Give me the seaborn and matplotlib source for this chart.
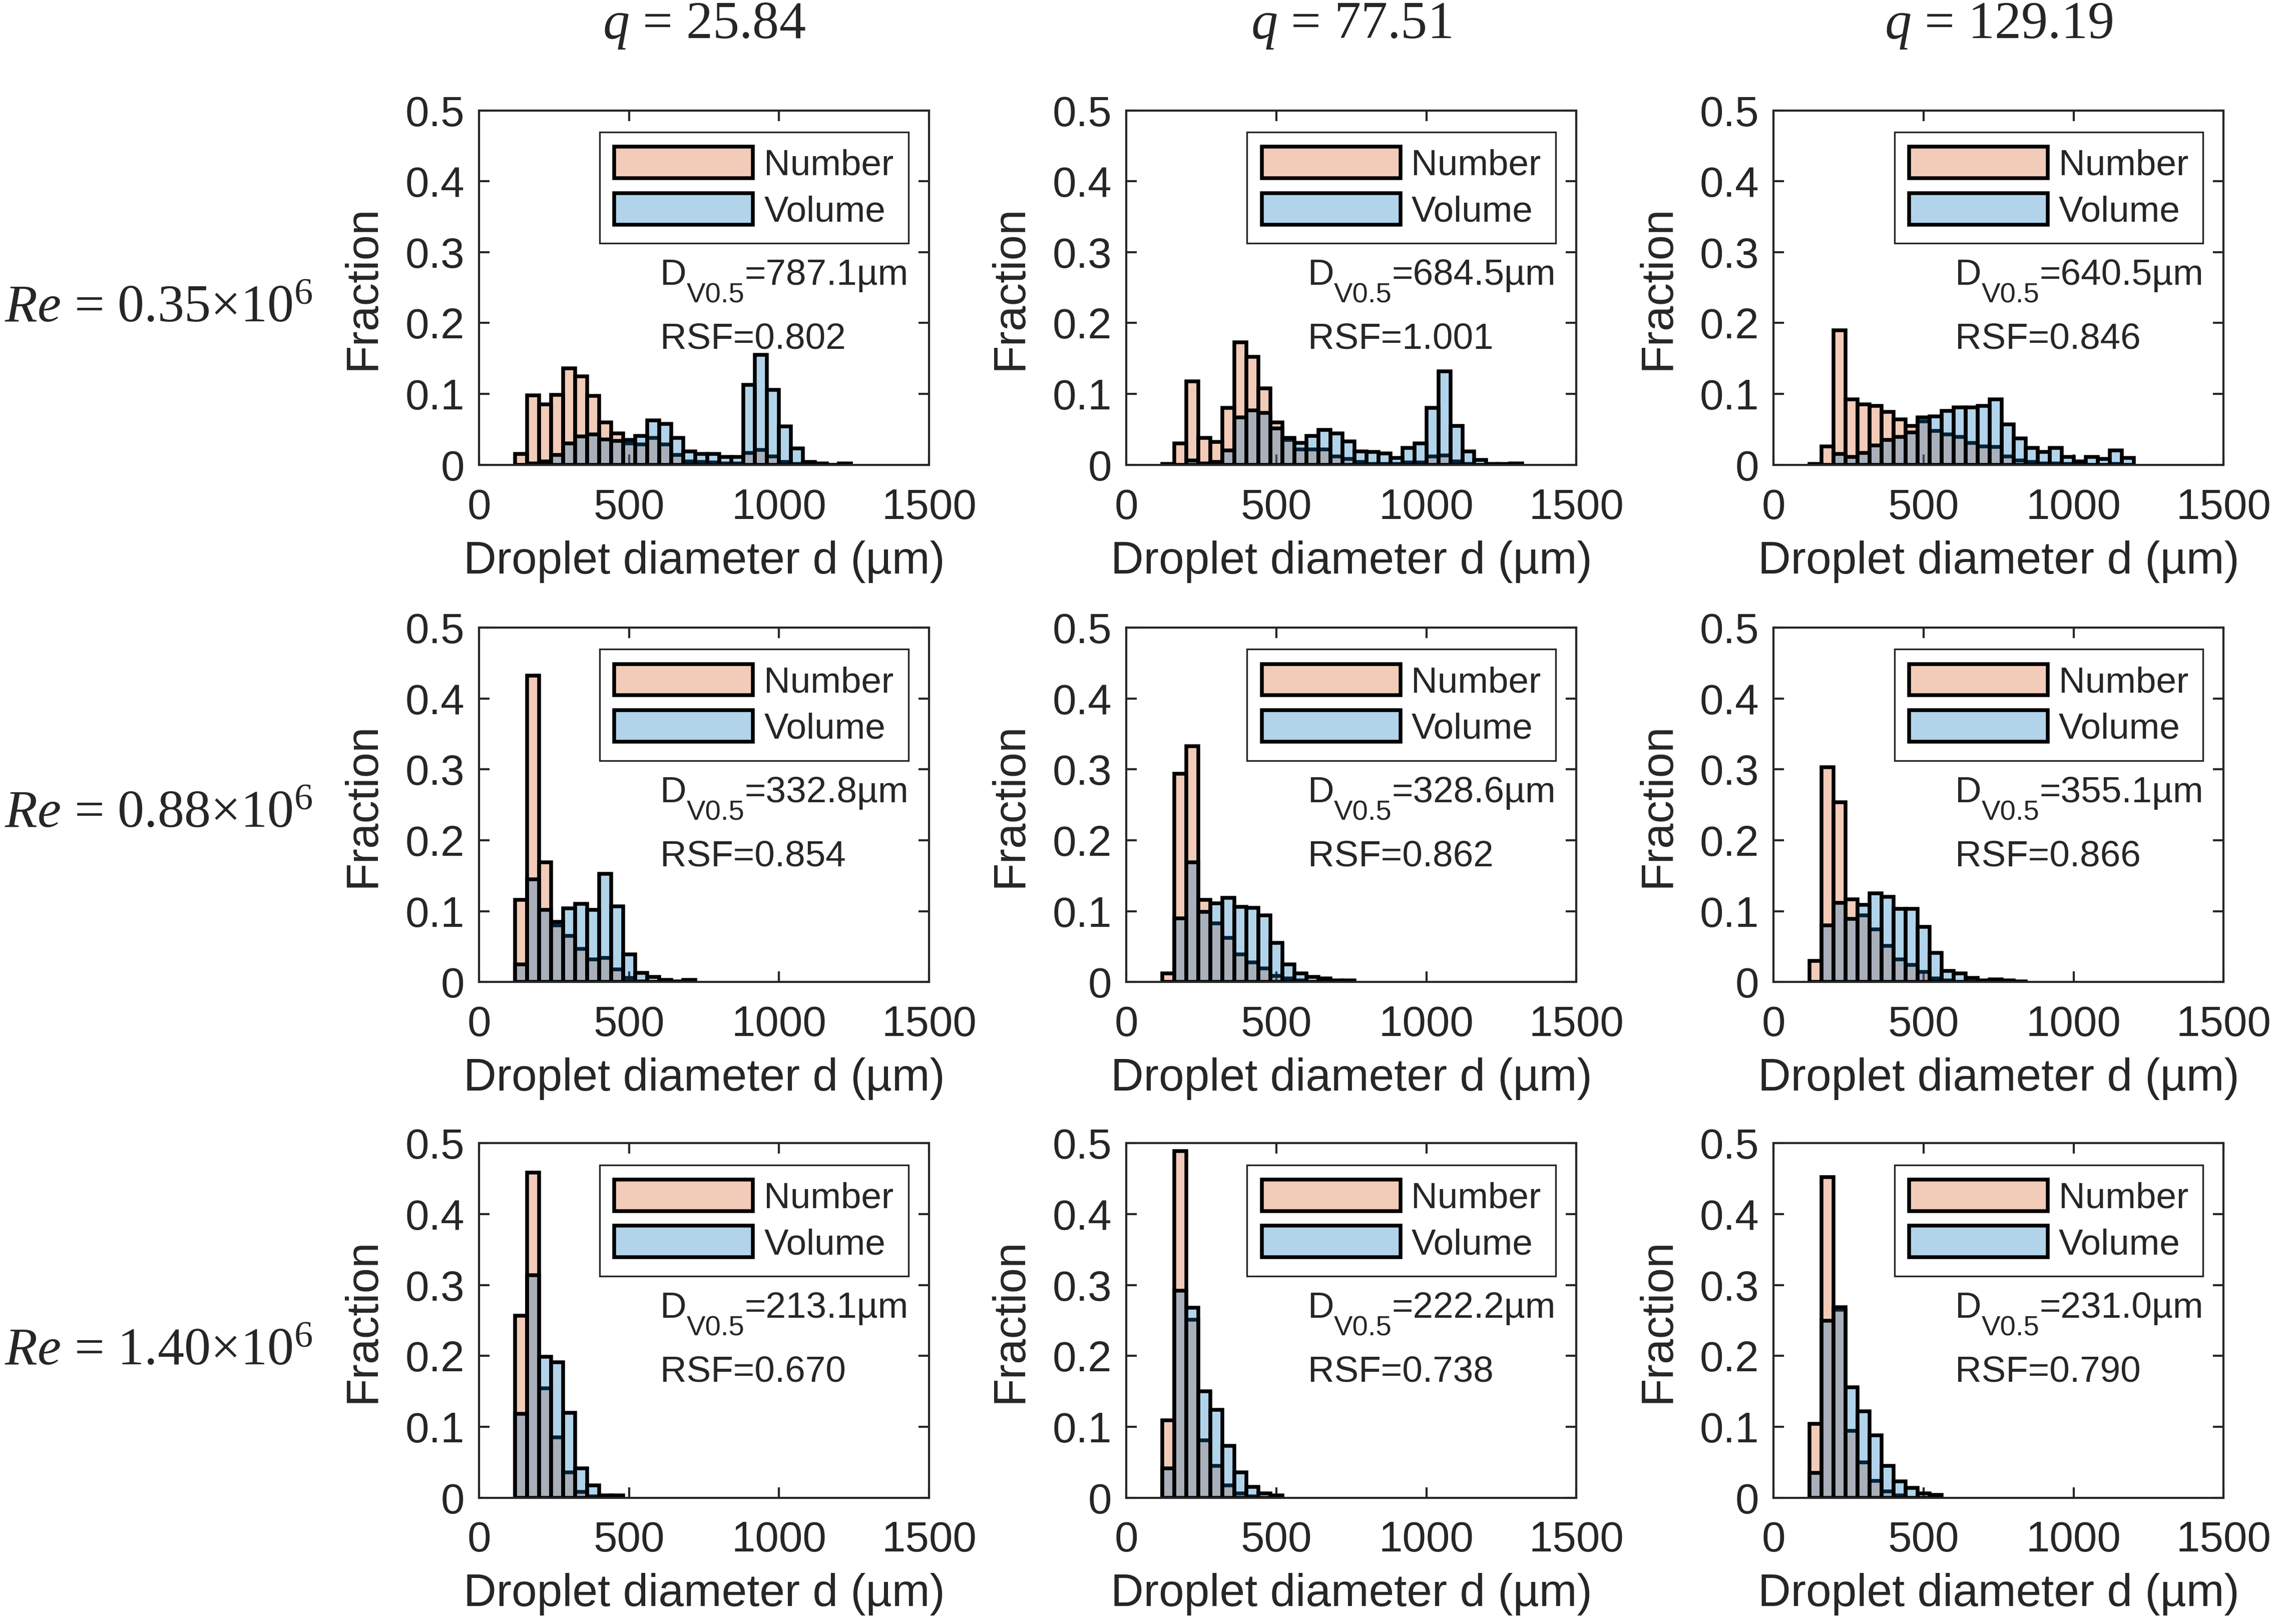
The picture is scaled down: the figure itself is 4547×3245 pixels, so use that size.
import numpy as np
import pandas as pd
import matplotlib
matplotlib.use("Agg")
import matplotlib.pyplot as plt
import seaborn as sns
from matplotlib.ticker import FuncFormatter


# 1. DATA (fractions per 40 um bin, first bin starts at 120 um)

BIN_START = 120
BIN_WIDTH = 40

q_labels = ["25.84", "77.51", "129.19"]
re_labels = ["0.35", "0.88", "1.40"]

dv05 = [[787.1, 684.5, 640.5],
        [332.8, 328.6, 355.1],
        [213.1, 222.2, 231.0]]
rsf = [[0.802, 1.001, 0.846],
       [0.854, 0.862, 0.866],
       [0.670, 0.738, 0.790]]

# Re = 0.35e6
number_a1 = [0.015, 0.098, 0.085, 0.099, 0.136, 0.125, 0.097, 0.060, 0.044, 0.030,
             0.029, 0.038, 0.029, 0.014, 0.005, 0.004, 0.003, 0.002, 0.002, 0.017,
             0.021, 0.012, 0.004, 0.001, 0.001, 0.001, 0.000, 0.001]
volume_a1 = [0.000, 0.002, 0.005, 0.014, 0.030, 0.040, 0.043, 0.036, 0.034, 0.035,
             0.041, 0.063, 0.058, 0.038, 0.019, 0.015, 0.015, 0.011, 0.011, 0.113,
             0.155, 0.106, 0.054, 0.023, 0.004, 0.002, 0.000, 0.002]

number_a2 = [0.001, 0.030, 0.118, 0.038, 0.032, 0.080, 0.173, 0.152, 0.108, 0.060,
             0.035, 0.022, 0.022, 0.022, 0.012, 0.008, 0.004, 0.001, 0.001, 0.001,
             0.003, 0.003, 0.012, 0.013, 0.005, 0.001, 0.000, 0.000, 0.000, 0.000]
volume_a2 = [0.000, 0.000, 0.006, 0.002, 0.004, 0.020, 0.067, 0.077, 0.073, 0.051,
             0.038, 0.031, 0.041, 0.049, 0.044, 0.033, 0.019, 0.018, 0.016, 0.010,
             0.024, 0.030, 0.080, 0.132, 0.055, 0.019, 0.007, 0.001, 0.001, 0.002]

number_a3 = [0.001, 0.026, 0.190, 0.092, 0.085, 0.083, 0.075, 0.064, 0.055, 0.061,
             0.048, 0.043, 0.039, 0.031, 0.026, 0.025, 0.012, 0.006, 0.004, 0.002,
             0.002, 0.001, 0.000, 0.000, 0.000, 0.001, 0.000]
volume_a3 = [0.000, 0.000, 0.015, 0.011, 0.017, 0.027, 0.035, 0.039, 0.046, 0.067,
             0.068, 0.076, 0.081, 0.081, 0.083, 0.092, 0.057, 0.037, 0.024, 0.018,
             0.024, 0.011, 0.005, 0.011, 0.008, 0.020, 0.010]

# Re = 0.88e6
number_b1 = [0.116, 0.432, 0.169, 0.080, 0.065, 0.047, 0.032, 0.034, 0.018, 0.006,
             0.001, 0.000, 0.000, 0.000, 0.000]
volume_b1 = [0.025, 0.145, 0.102, 0.085, 0.104, 0.110, 0.102, 0.153, 0.107, 0.039,
             0.013, 0.007, 0.003, 0.001, 0.003]

number_b2 = [0.012, 0.294, 0.333, 0.116, 0.083, 0.062, 0.039, 0.028, 0.019, 0.009,
             0.005, 0.002, 0.000, 0.000, 0.000, 0.000]
volume_b2 = [0.000, 0.090, 0.169, 0.099, 0.111, 0.119, 0.106, 0.105, 0.094, 0.055,
             0.025, 0.012, 0.007, 0.005, 0.002, 0.002]

number_b3 = [0.030, 0.303, 0.254, 0.117, 0.094, 0.074, 0.051, 0.032, 0.024, 0.014,
             0.005, 0.002, 0.000, 0.000, 0.000, 0.000, 0.000, 0.000]
volume_b3 = [0.000, 0.080, 0.112, 0.089, 0.109, 0.125, 0.120, 0.103, 0.103, 0.078,
             0.041, 0.016, 0.012, 0.006, 0.002, 0.004, 0.002, 0.001]

# Re = 1.40e6
number_c1 = [0.257, 0.459, 0.154, 0.085, 0.036, 0.008, 0.002, 0.000, 0.000]
volume_c1 = [0.118, 0.314, 0.199, 0.191, 0.120, 0.041, 0.017, 0.003, 0.003]

number_c2 = [0.109, 0.489, 0.251, 0.081, 0.045, 0.017, 0.006, 0.002, 0.000, 0.000]
volume_c2 = [0.041, 0.292, 0.268, 0.150, 0.124, 0.073, 0.036, 0.015, 0.006, 0.003]

number_c3 = [0.104, 0.452, 0.265, 0.094, 0.050, 0.024, 0.009, 0.003, 0.000, 0.000, 0.000]
volume_c3 = [0.035, 0.250, 0.269, 0.156, 0.122, 0.088, 0.045, 0.023, 0.014, 0.006, 0.004]

panels = [[(number_a1, volume_a1), (number_a2, volume_a2), (number_a3, volume_a3)],
          [(number_b1, volume_b1), (number_b2, volume_b2), (number_b3, volume_b3)],
          [(number_c1, volume_c1), (number_c2, volume_c2), (number_c3, volume_c3)]]


# 2. STYLE

sns.set_theme(style="ticks")
plt.rcParams["font.family"] = ["Liberation Sans", "DejaVu Sans"]
plt.rcParams["mathtext.fontset"] = "custom"
plt.rcParams["mathtext.rm"] = "Liberation Serif"
plt.rcParams["mathtext.it"] = "Liberation Serif:italic"

ORANGE = "#D95319"
BLUE = "#0072BD"
DARK = "#262626"

col_left = [0.2105, 0.4949, 0.7793]
row_bottom = [0.7138, 0.3953, 0.0778]
ax_w, ax_h = 0.1977, 0.2182
row_label_y = [0.8023, 0.491, 0.160]

TXT = 17.5   # legend / annotation size
SUB = 13.5   # subscript size
SUB_DROP = 7.8


# 3. FIGURE

fig = plt.figure(figsize=(4547 / 300, 3245 / 300), dpi=300)

for i in range(3):
    for j in range(3):
        number, volume = panels[i][j]
        ax = fig.add_axes([col_left[j], row_bottom[i], ax_w, ax_h])

        edges = [BIN_START + BIN_WIDTH * k for k in range(len(number) + 1)]
        df = pd.DataFrame({"d": [e + BIN_WIDTH / 2 for e in edges[:-1]],
                           "number": number, "volume": volume})

        sns.histplot(data=df, x="d", weights="number", bins=edges, color=ORANGE,
                     alpha=0.3, edgecolor="black", linewidth=1.8, label="Number", ax=ax)
        sns.histplot(data=df, x="d", weights="volume", bins=edges, color=BLUE,
                     alpha=0.3, edgecolor="black", linewidth=1.8, label="Volume", ax=ax)

        ax.set_xlim(0, 1500)
        ax.set_ylim(0, 0.5)
        ax.set_xticks([0, 500, 1000, 1500])
        ax.set_yticks([0, 0.1, 0.2, 0.3, 0.4, 0.5])
        ax.yaxis.set_major_formatter(FuncFormatter(lambda v, _: f"{v:g}"))
        ax.tick_params(direction="in", top=True, right=True, length=5, width=1.0,
                       labelsize=20.5, color=DARK, labelcolor=DARK)
        ax.tick_params(axis="x", pad=11)
        ax.tick_params(axis="y", pad=7)
        for sp in ax.spines.values():
            sp.set_visible(True)
            sp.set_linewidth(1.0)
            sp.set_color(DARK)

        ax.set_xlabel("Droplet diameter d (µm)", fontsize=21.8, labelpad=6, color=DARK)
        ax.set_ylabel("Fraction", fontsize=21.8, labelpad=10, color=DARK)

        leg = ax.legend(loc="upper right", bbox_to_anchor=(0.954, 0.939), borderaxespad=0,
                        fontsize=TXT, handlelength=3.8, handleheight=0.95,
                        handletextpad=0.3, labelspacing=0.29, borderpad=0.4,
                        frameon=True, fancybox=False, framealpha=1, edgecolor=DARK)
        leg.get_frame().set_linewidth(0.8)

        # D_V0.5 label built from three pieces so the subscript can be sized freely
        t_d = ax.text(0.403, 0.508, "D", transform=ax.transAxes, fontsize=TXT,
                      ha="left", va="baseline")
        t_sub = ax.annotate("V0.5", xy=(1, 0), xycoords=t_d, xytext=(0, -SUB_DROP),
                            textcoords="offset points", fontsize=SUB,
                            ha="left", va="bottom")
        ax.annotate(f"={dv05[i][j]:.1f}µm", xy=(1, 0), xycoords=t_sub,
                    xytext=(0, SUB_DROP), textcoords="offset points", fontsize=TXT,
                    ha="left", va="bottom")
        ax.text(0.403, 0.328, f"RSF={rsf[i][j]:.3f}",
                transform=ax.transAxes, fontsize=TXT, ha="left", va="baseline")

for j, q in enumerate(q_labels):
    fig.text(col_left[j] + ax_w / 2, 0.9767, rf"$q$ = {q}", ha="center", va="baseline",
             fontsize=25.5, family="Liberation Serif")

for i, re in enumerate(re_labels):
    fig.text(0.002, row_label_y[i], rf"$Re$ = {re}×10$^{{6}}$", ha="left", va="baseline",
             fontsize=25.5, family="Liberation Serif")

fig.savefig("out.png", dpi=300)
